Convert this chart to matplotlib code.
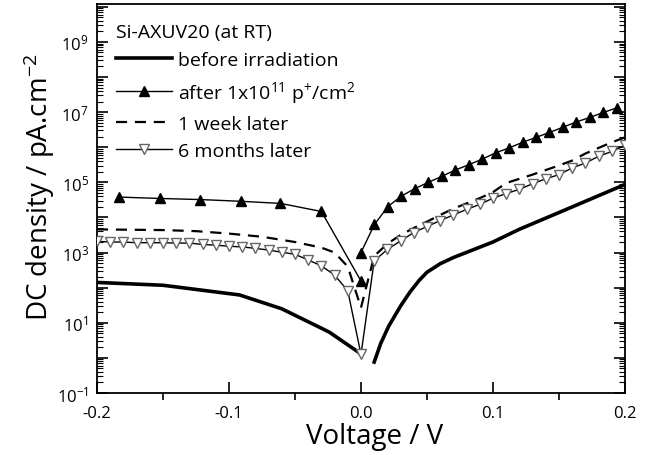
import numpy as np
import matplotlib
matplotlib.use("Agg")
import matplotlib.pyplot as plt
from matplotlib.ticker import LogLocator, NullFormatter, MultipleLocator

plt.rcParams['font.family'] = ['Open Sans', 'DejaVu Sans']
plt.rcParams['mathtext.fontset'] = 'custom'
plt.rcParams['mathtext.rm'] = 'Open Sans'
plt.rcParams['mathtext.it'] = 'Open Sans:italic'

# before irradiation (nan splits the two branches)
v_before = [-0.2, -0.15, -0.092, -0.06, -0.03, -0.024, 0.0, np.nan,
            0.01, 0.015, 0.021, 0.03, 0.037, 0.044, 0.05, 0.06, 0.07, 0.085, 0.1,
            0.12, 0.15, 0.2]
j_before = [141, 117, 62, 25, 7.0, 5.4, 1.3, np.nan,
            0.76, 2.6, 8, 30, 74, 160, 275, 480, 720, 1200, 2000,
            4600, 13800, 87000]

# after 1e11 p+/cm2
v_after = [-0.183, -0.152, -0.122, -0.091, -0.061, -0.030, 0.0, np.nan,
           0.0, 0.0102, 0.0204, 0.0306, 0.0408, 0.051, 0.0612, 0.0714, 0.0816, 0.0918,
           0.102, 0.1122, 0.1224, 0.1326, 0.1428, 0.153, 0.1632, 0.1734, 0.1836, 0.1938]
log_after = [4.58, 4.54, 4.51, 4.46, 4.40, 4.17, 2.19, np.nan,
             3.0, 3.80, 4.31, 4.61, 4.82, 5.0, 5.17, 5.35, 5.5, 5.66,
             5.84, 5.98, 6.14, 6.28, 6.42, 6.57, 6.72, 6.85, 6.99, 7.12]

# 1 week later
v_week = [-0.2, -0.15, -0.125, -0.1, -0.075, -0.05, -0.03, -0.02, -0.01, 0.0,
          0.01, 0.02, 0.03, 0.04, 0.05, 0.06, 0.07, 0.08, 0.09, 0.1,
          0.11, 0.12, 0.13, 0.14, 0.15, 0.16, 0.17, 0.18, 0.19, 0.2]
log_week = [3.66, 3.64, 3.61, 3.54, 3.45, 3.30, 3.14, 3.0, 2.6, 1.43,
            2.9, 3.25, 3.5, 3.7, 3.88, 4.07, 4.25, 4.4, 4.55, 4.72,
            4.98, 5.1, 5.22, 5.35, 5.48, 5.62, 5.82, 5.98, 6.14, 6.28]

# 6 months later
v_6m = [-0.2, -0.19, -0.18, -0.17, -0.16, -0.15, -0.14, -0.13, -0.12, -0.11,
        -0.1, -0.09, -0.08, -0.07, -0.06, -0.05, -0.04, -0.03, -0.02, -0.01, 0.0,
        0.01, 0.02, 0.03, 0.04, 0.05, 0.06, 0.07, 0.08, 0.09, 0.1,
        0.11, 0.12, 0.13, 0.14, 0.15, 0.16, 0.17, 0.18, 0.19, 0.2]
log_6m = [3.32, 3.30, 3.30, 3.28, 3.28, 3.28, 3.27, 3.27, 3.23, 3.21,
          3.18, 3.16, 3.12, 3.07, 3.01, 2.95, 2.79, 2.62, 2.36, 1.91, 0.1,
          2.76, 3.09, 3.33, 3.57, 3.74, 3.91, 4.07, 4.23, 4.37, 4.55,
          4.68, 4.80, 4.96, 5.10, 5.22, 5.41, 5.55, 5.74, 5.88, 6.05]

x_ticks = [-0.2, -0.1, 0.0, 0.1, 0.2]
x_ticklabels = ['-0.2', '-0.1', '0.0', '0.1', '0.2']

fig = plt.figure(figsize=(6.51, 4.56), dpi=100)
ax = fig.add_axes([0.149, 0.136, 0.811, 0.853])

ax.plot(v_before, j_before, color='black', lw=2.6, label='before irradiation', zorder=3)
ax.plot(v_after, 10 ** np.array(log_after), color='black', lw=1.0, marker='^',
        ms=7.5, mfc='black', mec='black', label='after 1x10$^{11}$ p$^{+}$/cm$^{2}$', zorder=4)
ax.plot(v_week, 10 ** np.array(log_week), color='black', lw=1.6, ls=(0, (5, 3.5)),
        label='1 week later', zorder=2)
ax.plot(v_6m, 10 ** np.array(log_6m), color='black', lw=1.0, marker='v', ms=7.5,
        mfc='white', mec='#666666', mew=1.0, label='6 months later', zorder=3)

ax.set_yscale('log')
ax.set_xlim(-0.2, 0.2)

ax.set_xticks(x_ticks)
ax.set_xticklabels(x_ticklabels)
ax.xaxis.set_minor_locator(MultipleLocator(0.05))

ax.yaxis.set_major_locator(LogLocator(base=10, numticks=20))
ax.yaxis.set_minor_locator(LogLocator(base=10, subs=np.arange(2, 10), numticks=20))
ax.yaxis.set_minor_formatter(NullFormatter())
exps = list(range(-1, 11))
ax.set_yticks([10.0 ** e for e in exps])
ax.set_yticklabels(['$\\mathdefault{10^{%d}}$' % e if e % 2 else '' for e in exps])
ax.set_ylim(0.1, 1.2e10)

ax.tick_params(axis='y', which='both', direction='in', right=True, labelsize=12, pad=6)
ax.tick_params(axis='y', which='major', length=8, width=1.2)
ax.tick_params(axis='y', which='minor', length=4, width=0.8)
ax.tick_params(axis='x', which='major', direction='in', length=8, width=1.2,
               labelsize=12, pad=9)
ax.tick_params(axis='x', which='minor', direction='out', length=5, width=1.2)
for s in ax.spines.values():
    s.set_linewidth(1.3)

ax.set_xlabel('Voltage / V', fontsize=20)
ax.xaxis.set_label_coords(0.525, -0.075)
ax.set_ylabel('DC density / pA.cm$^{-2}$', fontsize=20)
ax.yaxis.set_label_coords(-0.075, 0.53)

leg = ax.legend(loc='upper left', bbox_to_anchor=(0.036, 0.95), frameon=False,
                title='Si-AXUV20 (at RT)', alignment='left', fontsize=14,
                title_fontsize=14, handlelength=2.9, handletextpad=0.3,
                labelspacing=0.5, borderpad=0, borderaxespad=0)

fig.savefig('out.png', dpi=100)
